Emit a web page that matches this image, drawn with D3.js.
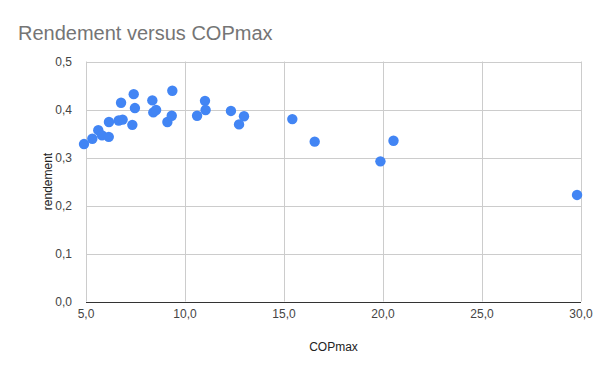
<!DOCTYPE html>
<html>
    <head>
        <meta charset="utf-8">
        <script src="https://d3js.org/d3.v7.min.js"></script>
        <style>
            body { margin: 0; background: #fff; }
            text { font-family: "Liberation Sans", Arial, sans-serif; }
        </style>
    </head>
    <body>
        <div id="chart"></div>
        <script>
            // COPmax values and matching rendement
            const copmax = [4.9, 5.32, 5.62, 5.81, 6.15, 6.16, 6.65, 6.85, 6.77, 7.34,
                            7.41, 7.47, 8.35, 8.40, 8.54, 9.36, 9.11, 9.33, 10.61, 11.01,
                            11.04, 12.32, 12.98, 12.73, 15.42, 16.55, 19.87, 20.53, 29.8];
            const rendement = [0.328, 0.339, 0.357, 0.346, 0.343, 0.374, 0.377, 0.379, 0.414, 0.368,
                               0.432, 0.403, 0.419, 0.394, 0.399, 0.439, 0.374, 0.387, 0.387, 0.418,
                               0.399, 0.397, 0.386, 0.369, 0.380, 0.333, 0.292, 0.335, 0.222];
            const xTicks = [5, 10, 15, 20, 25, 30];
            const yTicks = [0, 0.1, 0.2, 0.3, 0.4, 0.5];

            const width = 600, height = 371;
            const margin = {top: 61.5, right: 19, bottom: 69.5, left: 86};

            const svg = d3.select('#chart').append('svg')
                .attr('width', width)
                .attr('height', height);

            const x = d3.scaleLinear().domain([5, 30])
                .range([margin.left, width - margin.right]);
            const y = d3.scaleLinear().domain([0, 0.5])
                .range([height - margin.bottom, margin.top]);

            const fmt = d => d3.format('.1f')(d).replace('.', ',');

            // gridlines
            svg.append('g')
                .selectAll('line')
                .data(yTicks.filter(d => d > 0))
                .enter().append('line')
                    .attr('x1', x(5)).attr('x2', x(30))
                    .attr('y1', d => Math.round(y(d)) + 0.5)
                    .attr('y2', d => Math.round(y(d)) + 0.5)
                    .attr('stroke', '#cccccc');
            svg.append('g')
                .selectAll('line')
                .data(xTicks)
                .enter().append('line')
                    .attr('x1', d => Math.round(x(d)) + 0.5)
                    .attr('x2', d => Math.round(x(d)) + 0.5)
                    .attr('y1', y(0.5)).attr('y2', y(0))
                    .attr('stroke', '#cccccc');

            // zero line
            svg.append('line')
                .attr('x1', x(5)).attr('x2', x(30))
                .attr('y1', Math.round(y(0)) + 0.5)
                .attr('y2', Math.round(y(0)) + 0.5)
                .attr('stroke', '#333333');

            // tick labels
            svg.append('g')
                .selectAll('text')
                .data(yTicks)
                .enter().append('text')
                    .attr('x', x(5) - 14)
                    .attr('y', d => y(d) + 4)
                    .attr('text-anchor', 'end')
                    .attr('font-size', 12)
                    .attr('fill', '#444444')
                    .text(fmt);
            svg.append('g')
                .selectAll('text')
                .data(xTicks)
                .enter().append('text')
                    .attr('x', d => x(d))
                    .attr('y', y(0) + 16)
                    .attr('text-anchor', 'middle')
                    .attr('font-size', 12)
                    .attr('fill', '#444444')
                    .text(fmt);

            // points
            svg.append('g')
                .selectAll('circle')
                .data(copmax)
                .enter().append('circle')
                    .attr('cx', d => x(d))
                    .attr('cy', (d, i) => y(rendement[i]))
                    .attr('r', 5.2)
                    .attr('fill', '#4285f4');

            // titles
            svg.append('text')
                .attr('x', 18).attr('y', 40)
                .attr('font-size', 20)
                .attr('fill', '#757575')
                .text('Rendement versus COPmax');
            svg.append('text')
                .attr('x', (x(5) + x(30)) / 2)
                .attr('y', 351)
                .attr('text-anchor', 'middle')
                .attr('font-size', 12)
                .attr('fill', '#222222')
                .text('COPmax');
            svg.append('text')
                .attr('transform', `translate(52,${(y(0) + y(0.5)) / 2}) rotate(-90)`)
                .attr('text-anchor', 'middle')
                .attr('font-size', 12)
                .attr('fill', '#222222')
                .text('rendement');
        </script>
    </body>
</html>
